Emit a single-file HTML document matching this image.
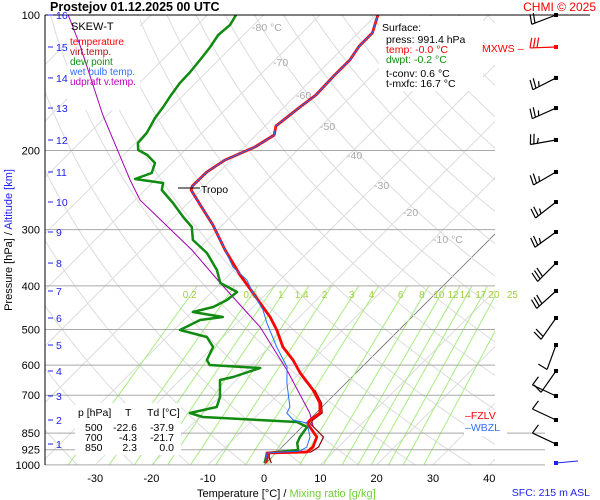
<!DOCTYPE html>
<html><head><meta charset="utf-8">
<style>
html,body{margin:0;padding:0;background:#fff;}
svg{display:block;font-family:"Liberation Sans",Arial,sans-serif;}
</style></head>
<body>
<svg id="chart" width="600" height="500" viewBox="0 0 600 500" xmlns="http://www.w3.org/2000/svg">
<defs><clipPath id="plotclip"><rect x="45" y="15" width="450" height="450"/></clipPath></defs>
<rect x="0" y="0" width="600" height="500" fill="#fff"/>
<g id="grid" clip-path="url(#plotclip)"></g>
<g id="plines"></g>
<g id="mrlabels"></g>

<g font-size="10.5" fill="#a8a8a8">
<text x="252" y="31">-80 °C</text><text x="273" y="66">-70</text><text x="296" y="99">-60</text><text x="320" y="130">-50</text><text x="347" y="159">-40</text><text x="374" y="189">-30</text><text x="403" y="216">-20</text><text x="433" y="243">-10 °C</text>
</g>

<rect x="67" y="16" width="73" height="94" fill="#fff"/>
<rect x="379" y="16" width="104" height="75" fill="#fff"/>
<rect x="75" y="403" width="106" height="52" fill="#fff"/>
<rect x="464" y="410" width="43" height="26" fill="#fff"/>

<g id="series" clip-path="url(#plotclip)"></g>
<g id="barbs"></g>

<text x="50" y="11" font-size="12.5" font-weight="bold" fill="#000">Prostejov   01.12.2025 00 UTC</text>
<text x="596" y="11" font-size="12" fill="#f00" text-anchor="end">CHMI © 2025</text>
<line x1="45" y1="15" x2="590" y2="15" stroke="#000" stroke-width="1"/>
<line x1="45" y1="15" x2="45" y2="465" stroke="#000" stroke-width="1"/>

<g>
<text x="71" y="30" font-size="11" fill="#000">SKEW-T</text>
<text x="70" y="45" font-size="10" fill="#f00">temperature</text>
<text x="70" y="55" font-size="10" fill="#b01010">virt.temp.</text>
<text x="70" y="65" font-size="10" fill="#109010">dew point</text>
<text x="70" y="75" font-size="10" fill="#3070ff">wet bulb temp.</text>
<text x="70" y="85" font-size="10" fill="#c000c0">udpraft v.temp.</text>
</g>

<g font-size="10.5">
<text x="382" y="31" fill="#000">Surface:</text>
<text x="386" y="43" fill="#000">press: 991.4 hPa</text>
<text x="386" y="53" fill="#f00">temp: -0.0 °C</text>
<text x="386" y="63" fill="#109010">dwpt: -0.2 °C</text>
<text x="386" y="77" fill="#000">t-conv: 0.6 °C</text>
<text x="386" y="87" fill="#000">t-mxfc: 16.7 °C</text>
</g>

<g font-size="10.5" fill="#000">
<text x="78" y="416">p [hPa]</text><text x="125" y="416">T</text><text x="147" y="416">Td [°C]</text>
<text x="85" y="431">500</text><text x="137" y="431" text-anchor="end">-22.6</text><text x="174" y="431" text-anchor="end">-37.9</text>
<text x="85" y="441">700</text><text x="137" y="441" text-anchor="end">-4.3</text><text x="174" y="441" text-anchor="end">-21.7</text>
<text x="85" y="451">850</text><text x="137" y="451" text-anchor="end">2.3</text><text x="174" y="451" text-anchor="end">0.0</text>
</g>

<g>
<line x1="178" y1="188" x2="200" y2="188" stroke="#000" stroke-width="1"/>
<text x="201" y="193" font-size="10.5" fill="#000">Tropo</text>
</g>
<g font-size="10.5">
<text x="465" y="419" fill="#f00">‒FZLV</text>
<text x="465" y="431" fill="#3070ff">‒WBZL</text>
</g>
<text x="482" y="52" font-size="10.5" fill="#f00">MXWS –</text>

<g id="ylabels" font-size="11" fill="#000" text-anchor="end"></g>
<g id="altlabels" font-size="10.5" fill="#2020f0"></g>
<g id="xlabels" font-size="11" fill="#000" text-anchor="middle"></g>

<text transform="translate(12,240) rotate(-90)" font-size="11" text-anchor="middle"><tspan fill="#000">Pressure [hPa]</tspan><tspan fill="#000">  /  </tspan><tspan fill="#2020f0">Altitude [km]</tspan></text>
<text x="197" y="497" font-size="11"><tspan fill="#000">Temperature [°C]  /  </tspan><tspan fill="#70d030">Mixing ratio [g/kg]</tspan></text>
<text x="590" y="496" font-size="10.5" fill="#2020f0" text-anchor="end">SFC: 215 m ASL</text>
</svg>

<script>
// ---- data ----
const pressureTicks = [100,200,300,400,500,600,700,850,925,1000];
const tempTicks = [-30,-20,-10,0,10,20,30,40];
const altTicks = [1,2,3,4,5,6,7,8,9,10,11,12,13,14,15,16];
const altPressure = [898.6,794.6,702.7,618.4,541.4,471.5,410.6,355.9,303.6,260.4,223.3,189.6,161,138,117.8,100];
const mixRatios = [0.2,0.4,0.6,0.8,1,1.4,2,3,4,6,8,10,12,14,17,20,25];
const mixLabels = ["0.2","","0.6","","1","1.4","2","3","4","6","8","10","12","14","17","20","25"];

const tempP = [100,109.6,117.2,125.9,136.6,150.6,160.1,176.5,184.8,196.5,210,223.3,239.9,244.9,264.4,292.9,332.9,378.3,414.9,469.1,501.3,547,584.5,624.8,681.6,728.4,766.5,794.6,811,866.9,912.3,935.9,940.8,965.1,991.4];
const tempT = [-59.7,-57.5,-57.5,-56.7,-56.7,-56.5,-57.2,-58.1,-56.8,-58.1,-61.1,-62.2,-62.3,-61.8,-57.5,-51.7,-45.1,-38.0,-32.5,-25.2,-21.7,-17.6,-13.5,-9.9,-4.6,-1.1,0.7,0.2,0.5,4.4,5.5,5.3,-1.6,-0.7,0.0];

const virtP = [681.6,728.4,766.5,794.6,811,866.9,912.3,935.9,940.8,965.1,991.4];
const virtT = [-4.3,-0.8,1.1,0.7,1.0,5.6,6.5,6.0,-1.2,-0.3,1.0];

const dewP = [100,105.3,110.8,117.8,125.9,133.9,141.6,152.1,160.1,169.4,182.9,192.5,199.5,204.7,213.3,224.5,231.5,236.3,244.9,261.7,281.2,295.9,316.3,338.1,368.8,394.1,412.7,430,445.6,457.2,469.1,476.4,501.3,519.6,547,584.5,599.7,609,637.7,647.6,706.3,743.4,766.5,782.4,802.7,823.5,866.9,894,926.4,940.8,991.4];
const dewT = [-84.9,-84.2,-84.5,-83.8,-83.3,-82.9,-82.8,-82.1,-81.5,-81.0,-79.8,-79.6,-78.3,-75.8,-73.0,-71.8,-73.7,-68.0,-67.0,-62.7,-58.4,-55.1,-52.6,-47.8,-43.0,-40.1,-35.5,-35.9,-37.1,-39.8,-33.6,-37.1,-38.9,-32.9,-30.0,-28.8,-27.4,-17.9,-21.1,-22.9,-19.9,-18.7,-22.4,-19.4,-1.8,0.9,1.4,2.0,3.4,-1.6,-0.2];

const wetP = [100,109.6,117.2,125.9,136.6,150.6,160.1,176.5,184.8,196.5,210,223.3,239.9,244.9,264.4,292.9,332.9,363.1,388.1,414.9,452.6,483.7,547,606,657.6,743.4,766.5,794.6,806.9,866.9,912.3,931.2,940.8,991.4];
const wetT = [-59.7,-57.5,-57.5,-56.7,-56.7,-56.5,-57.2,-58.1,-56.8,-58.1,-61.1,-62.2,-62.3,-61.8,-57.5,-51.7,-45.1,-40.7,-35.9,-32.5,-27.7,-24.7,-18.7,-13.3,-10.5,-5.7,-5.2,-2.8,0.2,3.2,4.4,3.9,-1.6,-0.1];

const parcelP = [100,116.6,166.8,232.7,257.7,332.9,394.1,493.7,615.3,766.5,823.5];
const parcelT = [-114.7,-107.3,-90.8,-74.4,-69.1,-51.0,-40.1,-25.2,-12.8,-1.1,2.0];

const windP = [100,117.8,138,161,189.6,223.3,260.4,303.6,355.9,410.6,471.5,541.4,618.4,702.7,794.6,898.6];
const windDir = [249,268,243,246,260,240,232,234,225,228,215,200,215,295,295,295];
const windSpd = [20,30,25,25,25,25,25,25,30,30,20,10,10,10,10,10];
const windMax = [false,true,false,false,false,false,false,false,false,false,false,false,false,false,false,false];

// ---- axes ----
const NS = "http://www.w3.org/2000/svg";
function yP(p){ return 15 + 195.4*Math.log(p/100); }
function xT(T,p){ return 264 + 5.63*T + (465 - yP(p)); }
function mk(tag, attrs, parent){
  const e = document.createElementNS(NS, tag);
  for (const k in attrs) e.setAttribute(k, attrs[k]);
  parent.appendChild(e); return e;
}
function pathFrom(P,T){
  let d=""; for(let i=0;i<P.length;i++){ d += (i?"L":"M") + xT(T[i],P[i]).toFixed(1)+","+yP(P[i]).toFixed(1); } return d;
}

const grid = document.getElementById('grid');
for (let T=-130; T<=40; T+=10){
  const l = mk('line',{x1:xT(T,1000),y1:yP(1000),x2:xT(T,100),y2:yP(100),stroke:T===0?'#707070':'#dcdcdc','stroke-width':T===0?0.8:1},grid);
  
  
}
for (let th=230; th<=480; th+=10){
  let d="";
  for (let p=1050; p>=95; p-=10){
    const T = th*Math.pow(p/1000,0.286)-273.15;
    d += (d?"L":"M")+xT(T,p).toFixed(1)+","+yP(p).toFixed(1);
  }
  const a = mk('path',{d:d,fill:'none',stroke:'#dcdcdc','stroke-width':1},grid);
  
  
}
function tdFromW(w,p){ const e=w*p/(622+w); const l=Math.log(e/6.112); return 243.5*l/(17.67-l); }
const mrl = document.getElementById('mrlabels');
mixRatios.forEach((w,i)=>{
  const x1=xT(tdFromW(w,1000),1000), x2=xT(tdFromW(w,400),400);
  const l = mk('line',{x1:x1,y1:yP(1000),x2:x2,y2:yP(400),stroke:'#a8ec80','stroke-width':1},grid);
  
  
  if (mixLabels[i]){
    const tx = xT(tdFromW(w,410),410);
    const t = mk('text',{x:tx-4,y:298,'font-size':10,fill:'#a0d040','text-anchor':'middle'},mrl);
    t.textContent = mixLabels[i];
    
    
  }
});
const pl = document.getElementById('plines'), yl = document.getElementById('ylabels');
pressureTicks.forEach(p=>{
  const y=yP(p);
  if (p!==100){
    const l = mk('line',{x1:45,y1:y,x2:p>=850?545:495,y2:y,stroke:'#a8a8a8','stroke-width':1},pl);
    
    
  }
  const t = mk('text',{x:40,y:y+4},yl); t.textContent=p;
  
  
});
const al = document.getElementById('altlabels');
altTicks.forEach((k,i)=>{
  const y=yP(altPressure[i]);
  const l = mk('line',{x1:48,y1:y,x2:53,y2:y,stroke:'#2020f0','stroke-width':1},al);
  
  
  const t = mk('text',{x:56,y:y+4},al); t.textContent=k;
  
  
});
const xl = document.getElementById('xlabels');
tempTicks.forEach(T=>{
  const t = mk('text',{x:xT(T,1000),y:482},xl); t.textContent=T;
  
  
});

// ---- series ----
const s = document.getElementById('series');
const sp = mk('path',{d:pathFrom(parcelP,parcelT),fill:'none',stroke:'#a000b0','stroke-width':1},s);


const sd = mk('path',{d:pathFrom(dewP,dewT),fill:'none',stroke:'#108a10','stroke-width':2.5,'stroke-linejoin':'round'},s);


const sv = mk('path',{d:pathFrom(virtP,virtT),fill:'none',stroke:'#900000','stroke-width':1.2},s);


const st = mk('path',{d:pathFrom(tempP,tempT),fill:'none',stroke:'#ff0000','stroke-width':2.8,'stroke-linejoin':'round'},s);


const sw = mk('path',{d:pathFrom(wetP,wetT),fill:'none',stroke:'#2070ff','stroke-width':1},s);



// ---- wind barbs ----
const bg = document.getElementById('barbs');
windP.forEach((p,i)=>{
  const x0=556, y0=yP(p), col=windMax[i]?'#f00':'#000';
  const r=windDir[i]*Math.PI/180, L=26;
  const dx=Math.sin(r), dy=-Math.cos(r);
  const x1=x0+dx*L, y1=y0+dy*L;
  const g = mk('g',{},bg);
  
  
  mk('line',{x1:x0,y1:y0,x2:x1,y2:y1,stroke:col,'stroke-width':1.2},g);
  mk('rect',{x:x0-2,y:y0-2,width:4,height:4,fill:col},g);
  const px=-dy, py=dx;
  let spd=windSpd[i], k=0;
  while (spd>=5){
    const len = spd>=10?10:5;
    const bx=x1-dx*k*3.5, by=y1-dy*k*3.5;
    mk('line',{x1:bx,y1:by,x2:bx+px*len-dx*2,y2:by+py*len-dy*2,stroke:col,'stroke-width':1.2},g);
    spd -= spd>=10?10:5; k++;
  }
});
const sfc = mk('g',{},bg);


mk('line',{x1:556,y1:463,x2:578,y2:461,stroke:'#2020f0','stroke-width':1},sfc);
mk('rect',{x:554,y:461,width:4,height:4,fill:'#2020f0'},sfc);
</script>
</body></html>
